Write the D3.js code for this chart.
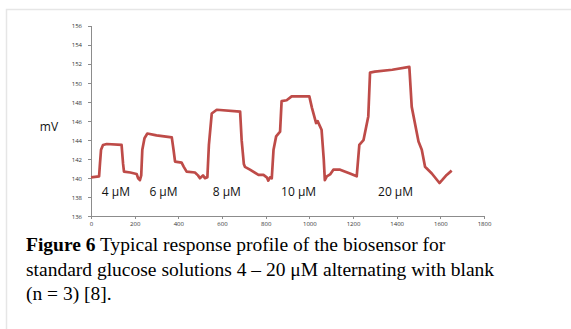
<!DOCTYPE html>
<meta charset="utf-8">
<script src="https://cdn.jsdelivr.net/npm/d3@7"></script>
<style type="text/css">
    body {
        margin: 0;
        background: #fff;
    }

    .axis path,
    .axis line {
        fill: none;
        stroke: #8c8c8c;
        shape-rendering: crispEdges;
    }

    .axis text {
        font-family: "Open Sans", sans-serif;
        font-size: 6px;
        fill: #333;
    }

    .conc {
        font-family: "Open Sans", sans-serif;
        font-size: 12px;
        fill: #111;
    }

    .caption {
        font-family: "Liberation Serif", "Times New Roman", serif;
        font-size: 19.5px;
        fill: #000;
    }
</style>

<body>
<script>
    // response profile (time in s, signal in mV)
    var times = [0, 37, 41, 46, 55, 72, 140, 147, 151, 180, 209, 216, 224, 230, 235, 245, 258, 300, 370, 378,
        385, 415, 425, 438, 476, 490, 499, 513, 522, 533, 540, 553, 576, 683, 690, 700, 705, 728, 767, 790,
        805, 812, 820, 828, 836, 848, 866, 873, 896, 919, 1000, 1012, 1031, 1038, 1056, 1066, 1071, 1080, 1095, 1110,
        1141, 1186, 1217, 1229, 1248, 1270, 1278, 1300, 1380, 1458, 1469, 1500, 1515, 1530, 1561, 1596, 1608, 1629, 1652];
    var mv = [140.1, 140.2, 141.5, 143.0, 143.5, 143.6, 143.5, 141.5, 140.7, 140.6, 140.45, 140.0, 139.8, 140.3, 143.0, 144.2, 144.7, 144.5, 144.3, 143.0,
        141.75, 141.65, 141.2, 140.7, 140.6, 140.3, 140.0, 140.3, 140.0, 140.1, 143.5, 146.8, 147.2, 147.0, 144.0, 141.5, 141.2, 140.9, 140.35, 140.35,
        140.1, 139.75, 140.1, 140.0, 143.0, 144.4, 144.9, 148.1, 148.2, 148.6, 148.6, 147.4, 145.8, 146.0, 145.1, 142.0, 139.8, 140.2, 140.4, 140.9,
        140.9, 140.5, 140.2, 143.5, 144.0, 146.5, 151.1, 151.2, 151.4, 151.7, 147.5, 143.85, 143.0, 141.2, 140.5, 139.5, 139.8, 140.35, 140.8];

    // concentration labels and where they sit (data units)
    var concLabels = ["4 \u03bcM", "6 \u03bcM", "8 \u03bcM", "10 \u03bcM", "20 \u03bcM"];
    var concAt = [114, 332, 622, 951, 1395];
    var concLevel = 138.1;

    var yTicks = [136, 138, 140, 142, 144, 146, 148, 150, 152, 154, 156];
    var xTicks = [0, 200, 400, 600, 800, 1000, 1200, 1400, 1600, 1800];

    var captionLines = [
        [{b: true, t: "Figure 6"}, {b: false, t: " Typical response profile of the biosensor for"}],
        [{b: false, t: "standard glucose solutions 4 \u2013 20 \u03bcM alternating with blank"}],
        [{b: false, t: "(n = 3) [8]."}]
    ];

    var width = 571, height = 329;

    var xScale = d3.scaleLinear().domain([0, 1800]).range([91, 484]),
        yScale = d3.scaleLinear().domain([136, 156]).range([216.3, 26]);

    var svg = d3.select("body")
        .append("svg")
        .attr("width", width)
        .attr("height", height);

    // faint frame of the figure box
    svg.append("path")
        .attr("d", "M6.5," + height + "V9.5H" + width)
        .attr("fill", "none")
        .attr("stroke", "#e6e6e6")
        .attr("stroke-width", 1.5);

    // axes
    svg.append("g")
        .attr("class", "axis")
        .attr("transform", "translate(" + xScale(0) + ",0)")
        .call(d3.axisLeft(yScale).tickValues(yTicks).tickSize(3).tickPadding(6));

    svg.append("g")
        .attr("class", "axis")
        .attr("transform", "translate(0," + yScale(136) + ")")
        .call(d3.axisBottom(xScale).tickValues(xTicks).tickFormat(d3.format("d")).tickSize(3).tickPadding(2));

    // response line
    var line = d3.line()
        .x(function(d, i){ return xScale(times[i]); })
        .y(function(d){ return yScale(d); });

    svg.append("path")
        .datum(mv)
        .attr("d", line)
        .attr("fill", "none")
        .attr("stroke", "#be4b48")
        .attr("stroke-width", 2.7)
        .attr("stroke-linejoin", "round");

    // unit label
    svg.append("text")
        .attr("class", "conc")
        .attr("x", 49)
        .attr("y", 131)
        .attr("text-anchor", "middle")
        .text("mV");

    svg.selectAll(".concLabel")
        .data(concLabels)
        .enter()
        .append("text")
        .attr("class", "conc")
        .attr("x", function(d, i){ return xScale(concAt[i]); })
        .attr("y", yScale(concLevel))
        .attr("text-anchor", "middle")
        .text(function(d){ return d; });

    // caption below the chart
    var cap = svg.append("text")
        .attr("class", "caption");

    captionLines.forEach(function(parts, i){
        parts.forEach(function(p, j){
            var span = cap.append("tspan")
                .style("font-weight", p.b ? "bold" : "normal")
                .text(p.t);
            if (j === 0)
                span.attr("x", 26).attr("y", 251 + i * 24.5);
        });
    });
</script>
</body>
